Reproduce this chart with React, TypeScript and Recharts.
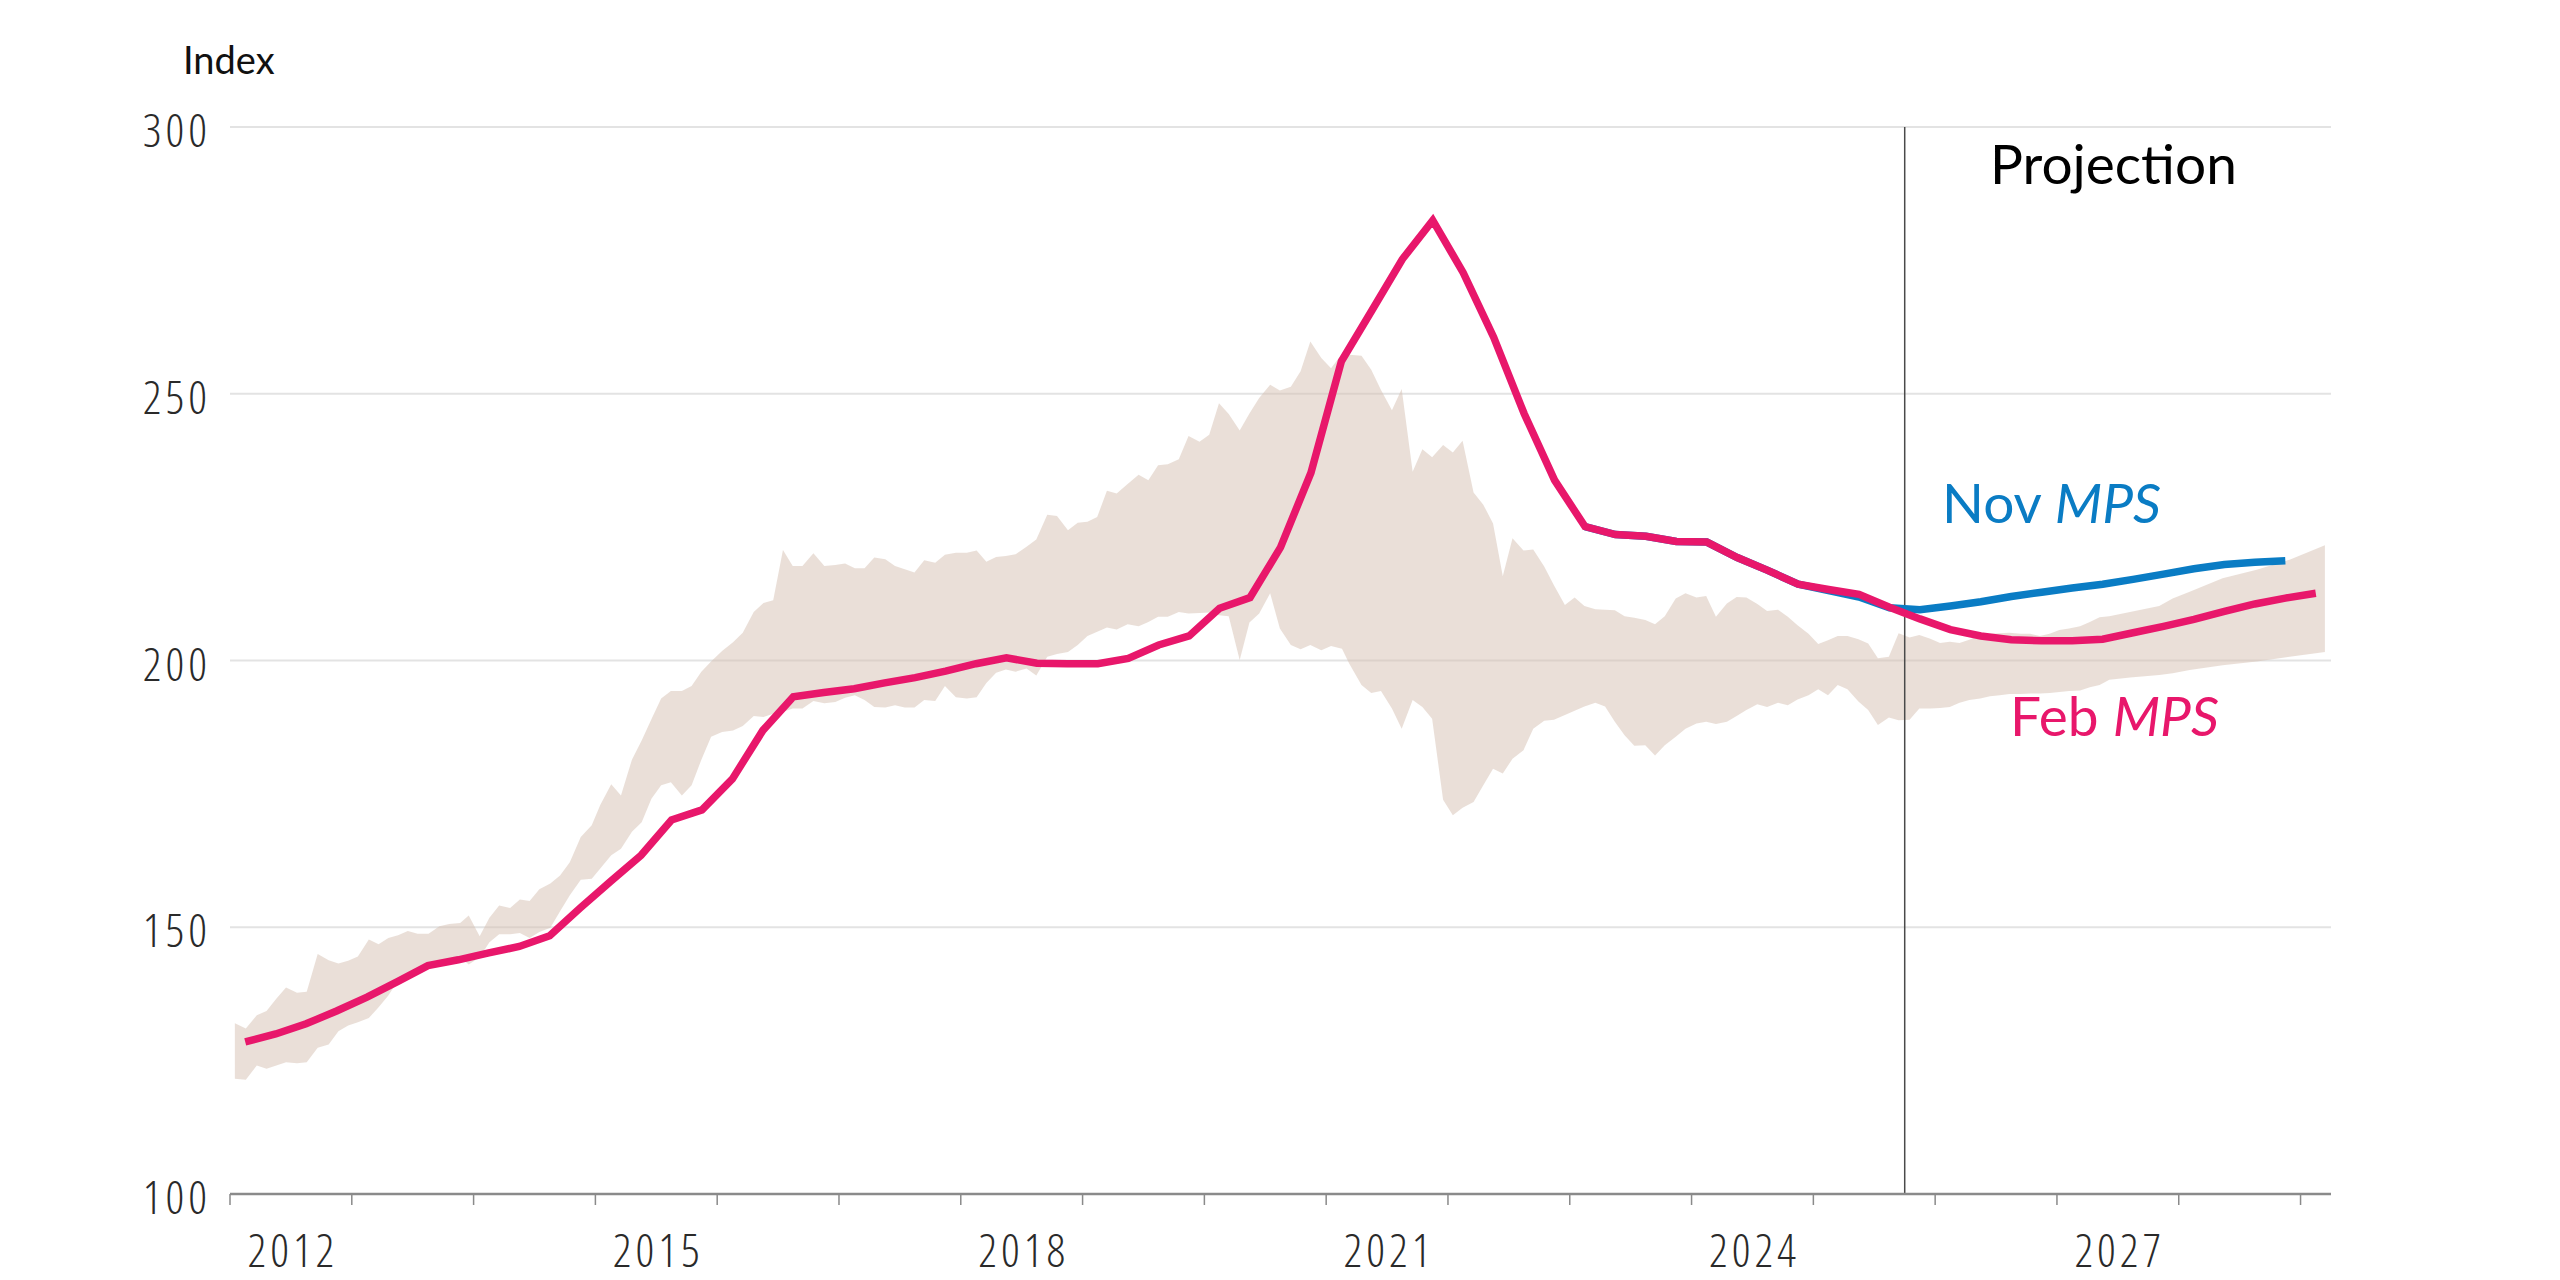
import React from 'react';
import { ComposedChart, Area, Line, XAxis, YAxis, CartesianGrid, ReferenceLine } from 'recharts';

const W = 2560;
const H = 1280;

const PINK = '#E8176B';
const BLUE = '#0A7CC4';

// quarterly, first point 2012 Q1
const febMps = [
  128.5, 130.0, 131.9, 134.3, 136.9, 139.8, 142.8, 143.9, 145.2, 146.4,
  148.4, 153.6, 158.6, 163.5, 170.1, 172.0, 177.8, 186.9, 193.2, 194.0,
  194.7, 195.8, 196.8, 198.0, 199.4, 200.5, 199.5, 199.4, 199.4, 200.4,
  202.9, 204.6, 209.8, 211.8, 221.2, 235.2, 256.1, 265.6, 275.2, 282.5,
  272.7, 260.6, 246.3, 233.8, 225.1, 223.6, 223.3, 222.3, 222.2, 219.3,
  216.9, 214.3, 213.3, 212.4, 210.0, 207.8, 205.8, 204.6, 203.9, 203.7,
  203.7, 204.0, 205.2, 206.4, 207.7, 209.2, 210.6, 211.7, 212.6,
];

// quarterly, first point 2023 Q1 (44 quarters after 2012 Q1)
const novOffset = 44;
const novMps = [
  225.1, 223.6, 223.3, 222.3, 222.2, 219.3, 216.9, 214.3, 213.1, 211.9,
  209.9, 209.5, 210.2, 211.0, 212.0, 212.8, 213.6, 214.3, 215.2, 216.2,
  217.2, 218.0, 218.4, 218.7,
];

// shaded range, read month by month
const bandYears = [
  2012.04, 2012.13, 2012.22, 2012.30, 2012.38, 2012.46, 2012.55, 2012.63, 2012.72, 2012.81, 2012.89, 2012.97,
  2013.05, 2013.14, 2013.22, 2013.30, 2013.38, 2013.46, 2013.54, 2013.63, 2013.72, 2013.80, 2013.89, 2013.96,
  2014.05, 2014.13, 2014.21, 2014.30, 2014.38, 2014.46, 2014.54, 2014.63, 2014.71, 2014.79, 2014.88, 2014.97,
  2015.04, 2015.13, 2015.21, 2015.30, 2015.38, 2015.46, 2015.54, 2015.62, 2015.71, 2015.79, 2015.87, 2015.95,
  2016.04, 2016.13, 2016.21, 2016.30, 2016.38, 2016.46, 2016.54, 2016.62, 2016.70, 2016.79, 2016.88, 2016.97,
  2017.05, 2017.13, 2017.21, 2017.29, 2017.38, 2017.46, 2017.54, 2017.62, 2017.70, 2017.79, 2017.87, 2017.96,
  2018.05, 2018.13, 2018.21, 2018.29, 2018.37, 2018.45, 2018.54, 2018.62, 2018.71, 2018.79, 2018.88, 2018.96,
  2019.04, 2019.12, 2019.20, 2019.28, 2019.37, 2019.46, 2019.54, 2019.62, 2019.70, 2019.79, 2019.87, 2019.96,
  2020.04, 2020.12, 2020.20, 2020.29, 2020.37, 2020.45, 2020.54, 2020.62, 2020.71, 2020.79, 2020.87, 2020.96,
  2021.04, 2021.13, 2021.19, 2021.29, 2021.37, 2021.45, 2021.54, 2021.62, 2021.71, 2021.79, 2021.87, 2021.96,
  2022.04, 2022.12, 2022.21, 2022.29, 2022.37, 2022.45, 2022.53, 2022.62, 2022.70, 2022.79, 2022.87, 2022.96,
  2023.04, 2023.12, 2023.21, 2023.29, 2023.37, 2023.45, 2023.53, 2023.62, 2023.70, 2023.78, 2023.87, 2023.95,
  2024.04, 2024.12, 2024.20, 2024.29, 2024.37, 2024.45, 2024.54, 2024.62, 2024.71, 2024.79, 2024.87, 2024.96,
  2025.04, 2025.12, 2025.20, 2025.28, 2025.37, 2025.45, 2025.53, 2025.62, 2025.70, 2025.79, 2025.87, 2025.96,
  2026.04, 2026.12, 2026.20, 2026.28, 2026.37, 2026.45, 2026.53, 2026.61, 2026.70, 2026.78, 2026.86, 2026.94,
  2027.02, 2027.10, 2027.19, 2027.27, 2027.35, 2027.43, 2027.60, 2027.84, 2027.95, 2028.09, 2028.36, 2028.64,
  2028.91, 2029.20,
];
const bandLow = [
  121.6, 121.4, 124.1, 123.5, 124.1, 124.7, 124.5, 124.7, 127.4, 128.0, 130.5, 131.6,
  132.2, 133.0, 135.0, 137.2, 140.0, 141.2, 142.2, 142.8, 143.5, 144.0, 144.4, 143.0,
  144.4, 147.2, 148.7, 148.7, 148.9, 148.0, 149.1, 149.9, 153.0, 156.0, 158.9, 159.1,
  161.0, 163.5, 164.7, 167.9, 169.7, 174.1, 176.6, 177.2, 174.7, 176.6, 181.4, 185.7,
  186.6, 186.9, 187.7, 189.6, 189.4, 190.0, 190.4, 191.0, 191.0, 192.4, 192.0, 192.2,
  193.0, 193.5, 192.6, 191.3, 191.2, 191.6, 191.2, 191.2, 192.6, 192.4, 195.2, 193.1,
  192.9, 193.1, 195.8, 197.7, 198.3, 197.9, 198.5, 197.2, 200.7, 201.2, 201.6, 202.9,
  204.6, 205.4, 206.2, 205.8, 206.8, 206.4, 207.2, 208.2, 208.2, 209.1, 208.8, 208.9,
  209.0, 208.5, 208.3, 200.1, 207.1, 208.8, 212.6, 206.0, 202.9, 202.1, 202.9, 201.9,
  202.7, 202.2, 199.4, 195.4, 193.9, 194.3, 191.0, 187.2, 192.6, 191.3, 189.1, 173.9,
  171.0, 172.4, 173.5, 176.6, 179.7, 178.8, 181.6, 183.2, 187.2, 188.7, 188.9, 189.8,
  190.6, 191.4, 192.1, 191.4, 188.5, 186.0, 184.0, 184.1, 182.2, 184.1, 185.7, 187.2,
  188.2, 188.5, 188.1, 188.5, 189.6, 190.7, 191.8, 191.3, 192.1, 191.6, 192.7, 193.5,
  194.6, 193.5, 195.4, 194.6, 192.3, 190.7, 187.9, 189.3, 188.8, 188.9, 191.0, 191.0,
  191.1, 191.3, 192.1, 192.6, 192.9, 193.3, 193.5, 193.7, 193.7, 193.8, 193.8, 193.9,
  194.1, 194.3, 194.4, 195.0, 195.4, 196.4, 196.8, 197.3, 197.6, 198.2, 199.1, 199.8,
  200.7, 201.6,
];
const bandHigh = [
  132.0, 131.0, 133.5, 134.3, 136.6, 138.7, 137.7, 137.9, 145.0, 143.8, 143.2, 143.7,
  144.5, 147.7, 146.8, 148.0, 148.5, 149.3, 148.8, 148.8, 150.2, 150.6, 150.8, 152.2,
  148.3, 151.8, 154.1, 153.6, 155.2, 154.9, 157.1, 158.2, 159.7, 162.2, 166.9, 169.1,
  172.9, 176.8, 174.7, 181.4, 185.0, 189.0, 192.9, 194.3, 194.3, 195.2, 197.9, 199.8,
  201.8, 203.4, 205.2, 209.1, 210.8, 211.3, 220.7, 217.7, 217.7, 220.1, 217.7, 217.9,
  218.2, 217.3, 217.3, 219.3, 219.0, 217.7, 217.1, 216.5, 218.8, 218.3, 219.8, 220.2,
  220.2, 220.6, 218.5, 219.4, 219.6, 219.9, 221.3, 222.7, 227.3, 227.1, 224.4, 225.8,
  226.0, 226.9, 231.8, 231.3, 233.1, 234.8, 233.8, 236.6, 236.8, 237.7, 242.1, 241.0,
  242.3, 248.2, 246.2, 243.1, 246.3, 249.2, 251.7, 250.6, 251.3, 254.2, 259.8, 256.7,
  254.8, 257.5, 257.3, 257.1, 254.5, 250.7, 246.9, 250.9, 235.4, 239.6, 238.1, 240.4,
  239.0, 241.2, 231.5, 229.2, 225.7, 215.8, 222.9, 220.6, 220.8, 217.6, 214.1, 210.4,
  211.8, 210.2, 209.6, 209.5, 209.4, 208.3, 208.0, 207.6, 206.8, 208.3, 211.6, 212.6,
  211.8, 212.1, 208.2, 210.7, 211.9, 211.8, 210.6, 209.3, 209.5, 208.2, 206.6, 205.0,
  203.1, 203.8, 204.6, 204.6, 204.0, 203.2, 200.4, 200.7, 205.1, 204.3, 204.8, 204.1,
  203.3, 203.5, 203.3, 203.9, 204.8, 205.0, 205.1, 205.2, 205.0, 205.0, 204.6, 205.0,
  205.7, 206.0, 206.4, 207.2, 208.1, 208.3, 209.1, 210.2, 211.6, 212.9, 215.4, 217.0,
  218.9, 221.6,
];

const yTicks = [100, 150, 200, 250, 300];
const yearTicks = [2012, 2013, 2014, 2015, 2016, 2017, 2018, 2019, 2020, 2021, 2022, 2023, 2024, 2025, 2026, 2027, 2028, 2029];
const labelYears = [2012, 2015, 2018, 2021, 2024, 2027];
const projectionStart = 2025.75;
const xDomain = [2012, 2029.25];

const quarterMid = (i: number) => 2012 + (i + 0.5) / 4;

function buildRows() {
  const map = new Map<number, any>();
  const row = (x: number) => {
    const k = Math.round(x * 1000) / 1000;
    if (!map.has(k)) map.set(k, { x: k });
    return map.get(k);
  };
  bandYears.forEach((x, i) => { row(x).band = [bandLow[i], bandHigh[i]]; });
  febMps.forEach((v, i) => { row(quarterMid(i)).feb = v; });
  novMps.forEach((v, i) => { row(quarterMid(novOffset + i)).nov = v; });
  return [...map.values()].sort((a, b) => a.x - b.x);
}

const rows = buildRows();
const xTicks = [...yearTicks, ...labelYears.map((y) => y + 0.5)].sort((a, b) => a - b);

const tickFont = {
  fontFamily: '"Open Sans", Lato, sans-serif',
  fontWeight: 300,
  fontStretch: '75%' as any,
  fontSize: 46,
  letterSpacing: '4px',
  fill: '#2a2a2a',
};

function YearTick(props: any) {
  const { x, y, payload } = props;
  const v = payload.value;
  if (Number.isInteger(v)) {
    return <line x1={x} x2={x} y1={y} y2={y + 11} stroke="#8a8a8a" strokeWidth={1.5} />;
  }
  return (
    <text x={x + 2} y={y + 73} textAnchor="middle" style={tickFont}>
      {Math.floor(v)}
    </text>
  );
}

function ValueTick(props: any) {
  const { x, y, payload } = props;
  return (
    <text x={x} y={y + 20} textAnchor="end" style={tickFont}>
      {payload.value}
    </text>
  );
}

const labelFont = { fontFamily: 'Lato, "Open Sans", sans-serif', fontSize: 55 };

export default function App() {
  return (
    <div style={{ position: 'absolute', left: 0, top: 0, width: W, height: H, background: '#fff' }}>
      <ComposedChart width={W} height={H} data={rows} margin={{ top: 127, right: 229, bottom: 0, left: 0 }}>
        <CartesianGrid vertical={false} stroke="#e3e3e3" strokeWidth={2} />
        <XAxis
          type="number"
          dataKey="x"
          domain={xDomain}
          ticks={xTicks}
          interval={0}
          allowDataOverflow
          height={86}
          tickSize={0}
          tickMargin={0}
          tickLine={false}
          axisLine={{ stroke: '#8a8a8a', strokeWidth: 2.5 }}
          tick={<YearTick />}
        />
        <YAxis
          type="number"
          domain={[100, 300]}
          ticks={yTicks}
          interval={0}
          width={230}
          tickSize={0}
          tickMargin={19}
          axisLine={false}
          tickLine={false}
          tick={<ValueTick />}
        />
        <Area
          type="linear"
          dataKey="band"
          stroke="none"
          fill="#D5BFB1"
          fillOpacity={0.5}
          connectNulls
          isAnimationActive={false}
        />
        <ReferenceLine x={projectionStart} stroke="#4a4a4a" strokeWidth={1.5} />
        <Line type="linear" dataKey="nov" stroke={BLUE} strokeWidth={7.5} dot={false} connectNulls isAnimationActive={false} />
        <Line type="linear" dataKey="feb" stroke={PINK} strokeWidth={7.5} dot={false} connectNulls isAnimationActive={false} />
      </ComposedChart>
      <svg width={W} height={H} style={{ position: 'absolute', left: 0, top: 0, pointerEvents: 'none' }}>
        <text x={183} y={74} style={{ ...labelFont, fontSize: 38, fill: '#111' }}>Index</text>
        <text x={1990} y={184} style={{ ...labelFont, fill: '#000' }}>Projection</text>
        <text x={1942} y={523} style={{ ...labelFont, fill: BLUE }}>
          Nov <tspan fontStyle="italic">MPS</tspan>
        </text>
        <text x={2010} y={736} style={{ ...labelFont, fill: PINK }}>
          Feb <tspan fontStyle="italic">MPS</tspan>
        </text>
      </svg>
    </div>
  );
}
